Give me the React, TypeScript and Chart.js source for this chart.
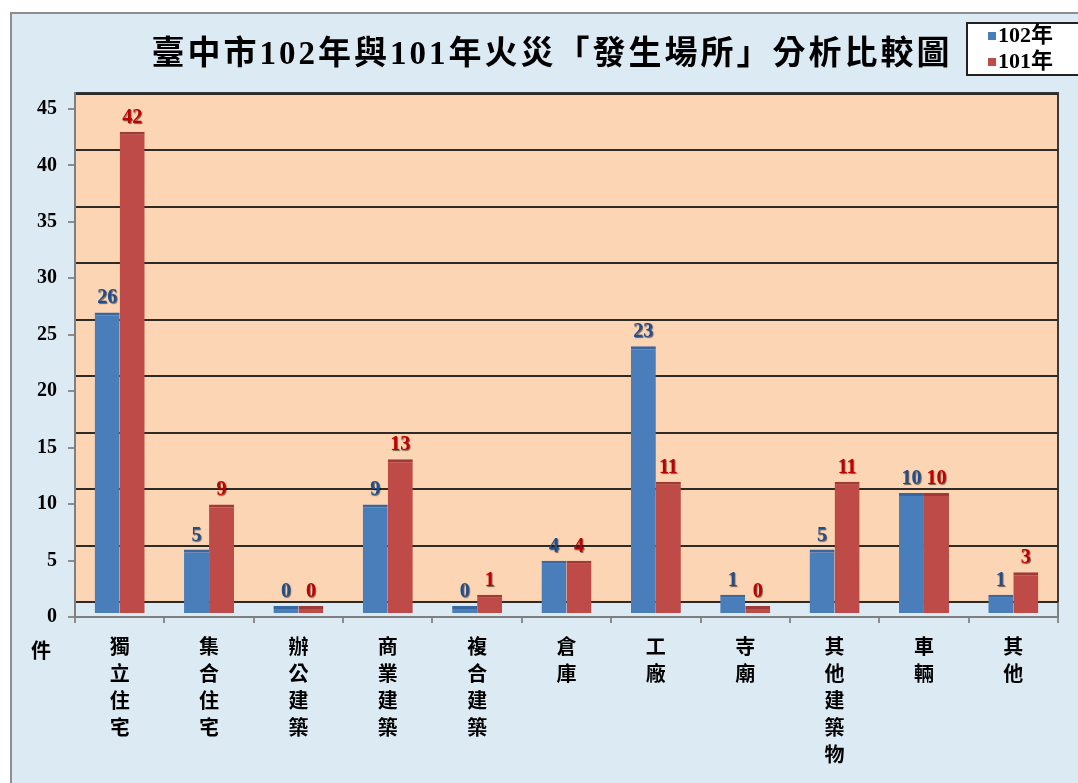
import React, { useEffect, useRef } from 'react';
import { Chart, registerables } from 'chart.js';

Chart.register(...registerables);

// ---- data ----
const categories: string[][] = [
  ['獨', '立', '住', '宅'],
  ['集', '合', '住', '宅'],
  ['辦', '公', '建', '築'],
  ['商', '業', '建', '築'],
  ['複', '合', '建', '築'],
  ['倉', '庫'],
  ['工', '廠'],
  ['寺', '廟'],
  ['其', '他', '建', '築', '物'],
  ['車', '輛'],
  ['其', '他'],
];
const values102 = [26, 5, 0, 9, 0, 4, 23, 1, 5, 10, 1];
const values101 = [42, 9, 0, 13, 1, 4, 11, 0, 11, 10, 3];
const seriesNames = ['102年', '101年'];
const yTickValues = [0, 5, 10, 15, 20, 25, 30, 35, 40, 45];
const titleText = '臺中市102年與101年火災「發生場所」分析比較圖';
const unitLabel = '件';

// ---- style ----
const FONT = "'Liberation Serif', 'Noto Sans CJK TC', serif";
const BLUE = '#4a7ebb';
const RED = '#be4b48';
const BLUE_TOP = '#3a66a0';
const RED_TOP = '#9e3b38';
const BLUE_LABEL = '#1f4e8c';
const RED_LABEL = '#c00000';
const OUTER_BG = '#dbeaf3';
const WALL = '#fcd5b4';
const GRID = '#2e2a26';

const decorPlugin = {
  id: 'decor',
  beforeDraw(chart: any) {
    const { ctx, chartArea } = chart;
    const yGrid = chart.scales.yGrid;
    ctx.save();
    ctx.fillStyle = '#ffffff';
    ctx.fillRect(0, 0, chart.width, chart.height);
    ctx.fillStyle = OUTER_BG;
    ctx.fillRect(11, 13, chart.width + 20, chart.height + 20);
    ctx.strokeStyle = '#8e8e8e';
    ctx.lineWidth = 2;
    ctx.strokeRect(11, 13, chart.width + 20, chart.height + 20);
    const wallBottom = yGrid.getPixelForValue(0);
    ctx.fillStyle = WALL;
    ctx.fillRect(chartArea.left, chartArea.top, chartArea.right - chartArea.left, wallBottom - chartArea.top);
    ctx.strokeStyle = '#3a3a3a';
    ctx.lineWidth = 2;
    ctx.strokeRect(chartArea.left, chartArea.top, chartArea.right - chartArea.left, wallBottom - chartArea.top);
    ctx.strokeStyle = '#7f7f7f';
    ctx.beginPath();
    ctx.moveTo(chartArea.right, wallBottom);
    ctx.lineTo(chartArea.right, chartArea.bottom);
    ctx.stroke();
    ctx.restore();
  },
  afterDraw(chart: any) {
    const { ctx, chartArea } = chart;
    ctx.save();
    // title
    ctx.fillStyle = '#000';
    ctx.font = `bold 33px ${FONT}`;
    ctx.textAlign = 'center';
    ctx.textBaseline = 'middle';
    try { (ctx as any).letterSpacing = '3px'; } catch (e) {}
    ctx.fillText(titleText, 552, 55);
    try { (ctx as any).letterSpacing = '0px'; } catch (e) {}
    // legend
    ctx.fillStyle = '#ffffff';
    ctx.fillRect(967, 23, 112, 52);
    ctx.strokeStyle = '#222';
    ctx.lineWidth = 2;
    ctx.strokeRect(967, 23, 112, 52);
    const colors = [BLUE, RED];
    seriesNames.forEach((n, i) => {
      const cy = 36 + i * 26;
      ctx.fillStyle = colors[i];
      ctx.fillRect(988, cy - 4, 8, 8);
      ctx.fillStyle = '#000';
      ctx.font = `bold 22px ${FONT}`;
      ctx.textAlign = 'left';
      ctx.textBaseline = 'middle';
      ctx.fillText(n, 998, cy);
    });
    // unit label
    ctx.font = `bold 20px ${FONT}`;
    ctx.textAlign = 'center';
    ctx.textBaseline = 'middle';
    ctx.fillStyle = '#000';
    ctx.fillText(unitLabel, 41, chartArea.bottom + 36);
    ctx.restore();
  },
};

const valueLabelPlugin = {
  id: 'valueLabels',
  afterDatasetsDraw(chart: any) {
    const { ctx } = chart;
    const labelColors = [BLUE_LABEL, RED_LABEL];
    ctx.save();
    ctx.font = `bold 20px ${FONT}`;
    ctx.textAlign = 'center';
    ctx.textBaseline = 'alphabetic';
    chart.data.datasets.forEach((ds: any, di: number) => {
      const meta = chart.getDatasetMeta(di);
      meta.data.forEach((el: any, i: number) => {
        ctx.shadowColor = 'rgba(0,0,0,0.55)';
        ctx.shadowOffsetX = 1;
        ctx.shadowOffsetY = 1;
        ctx.shadowBlur = 1;
        ctx.fillStyle = labelColors[di];
        ctx.fillText(String(ds.data[i]), el.x, el.y - 9);
      });
    });
    ctx.restore();
  },
};

const tickSetter = (s: any) => {
  s.ticks = yTickValues.map((v) => ({ value: v }));
};

export default function App() {
  const ref = useRef<HTMLCanvasElement>(null);
  useEffect(() => {
    if (!ref.current) return;
    const chart = new Chart(ref.current, {
      type: 'bar',
      data: {
        labels: categories,
        datasets: [
          {
            label: seriesNames[0],
            data: values102,
            backgroundColor: BLUE,
            borderColor: BLUE_TOP,
            borderWidth: { top: 3, left: 0, right: 0, bottom: 0 },
            borderSkipped: false,
            base: -0.62,
            categoryPercentage: 0.56,
            barPercentage: 1.0,
          } as any,
          {
            label: seriesNames[1],
            data: values101,
            backgroundColor: RED,
            borderColor: RED_TOP,
            borderWidth: { top: 3, left: 0, right: 0, bottom: 0 },
            borderSkipped: false,
            base: -0.62,
            categoryPercentage: 0.56,
            barPercentage: 1.0,
          } as any,
        ],
      },
      options: {
        responsive: false,
        animation: false,
        layout: { padding: { top: 93, right: 20, left: 0, bottom: 0 } },
        plugins: {
          legend: { display: false },
          title: { display: false },
          tooltip: { enabled: false },
        },
        scales: {
          x: {
            offset: true,
            grid: {
              display: true,
              offset: true,
              drawOnChartArea: false,
              drawTicks: true,
              tickLength: 6,
              color: '#8c8c8c',
              lineWidth: 2,
            },
            border: { display: true, color: '#7f7f7f', width: 2 },
            ticks: {
              font: { family: FONT, size: 20, weight: 'bold', lineHeight: 1.35 },
              color: '#000',
              padding: 12,
              maxRotation: 0,
              minRotation: 0,
              autoSkip: false,
            },
            afterFit: (s: any) => {
              s.height = 166;
            },
          },
          y: {
            display: false,
            min: -0.974,
            max: 45.44,
          },
          yGrid: {
            position: 'right',
            min: -1.33,
            max: 45.08,
            afterBuildTicks: tickSetter,
            grid: { color: GRID, lineWidth: 2, drawTicks: false },
            border: { display: false },
            ticks: { display: false },
            afterFit: (s: any) => {
              s.width = 0;
            },
          },
          yTicks: {
            position: 'left',
            min: 0,
            max: 46.41,
            afterBuildTicks: tickSetter,
            grid: { drawOnChartArea: false, tickLength: 7, color: '#8c8c8c', lineWidth: 2 },
            border: { display: true, color: '#7f7f7f', width: 2 },
            ticks: {
              font: { family: FONT, size: 20, weight: 'bold' },
              color: '#000',
              padding: 11,
            },
            afterFit: (s: any) => {
              s.width = 75;
            },
          },
        } as any,
      },
      plugins: [decorPlugin, valueLabelPlugin],
    });
    return () => chart.destroy();
  }, []);
  return (
    <div style={{ position: 'absolute', left: 0, top: 0, width: 1078, height: 783 }}>
      <canvas ref={ref} width={1078} height={783} style={{ display: 'block' }} />
    </div>
  );
}
